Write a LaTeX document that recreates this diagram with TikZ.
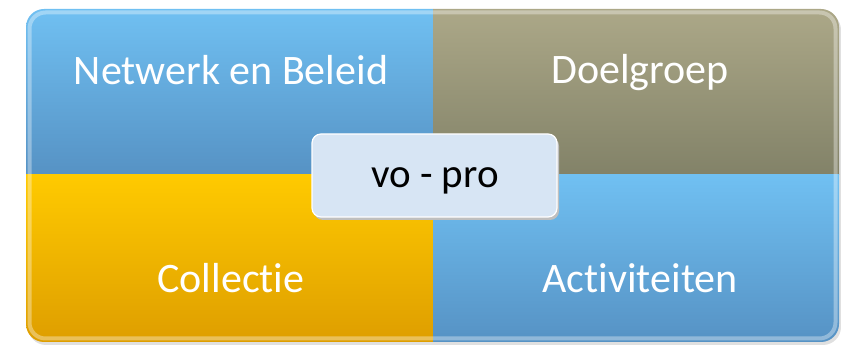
\documentclass[tikz,border=0pt]{standalone}
\usepackage{fontspec}
\setmainfont{Carlito}[Ligatures={NoCommon}]
\definecolor{blueTop}{RGB}{112,192,242}
\definecolor{blueBot}{RGB}{86,146,196}
\definecolor{oliveTop}{RGB}{172,168,136}
\definecolor{oliveBot}{RGB}{130,130,104}
\definecolor{goldTop}{RGB}{255,202,0}
\definecolor{goldBot}{RGB}{222,158,0}
\definecolor{centerFill}{RGB}{215,229,244}
\tikzset{
  lbl/.style={text=white, font=\fontsize{42}{48}\selectfont, anchor=base, inner sep=0pt},
  centerlbl/.style={text=black, font=\fontsize{41}{48}\selectfont, anchor=base, inner sep=0pt},
}
\begin{document}
\begin{tikzpicture}[x=1pt,y=-1pt]
\useasboundingbox (0,0) rectangle (841,347);
% soft shadow
\fill[black!12, rounded corners=18] (28,12) rectangle (841,345);
\begin{scope}
\clip[rounded corners=18] (26,9) rectangle (839,342);
\shade[top color=blueTop, bottom color=blueBot] (26,9) rectangle (433,175);
\shade[top color=oliveTop, bottom color=oliveBot] (433,9) rectangle (839,175);
\shade[top color=goldTop, bottom color=goldBot] (26,175) rectangle (433,342);
\shade[top color=blueTop, bottom color=blueBot] (433,175) rectangle (839,342);
% bevel highlight
\draw[white, opacity=0.35, line width=4pt, rounded corners=16] (29.5,12.5) rectangle (835.5,338.5);
\end{scope}
% center box
\fill[black!25, rounded corners=9] (314,137) rectangle (559,220);
\node[draw=white, line width=1.2pt, fill=centerFill, rounded corners=9,
      minimum width=245pt, minimum height=83pt, inner sep=0pt] (center) at (434.5,175.5) {};
\node[centerlbl] (vopro) at (435,188) {vo - pro};
\node[lbl] (nb) at (231,85) {Netwerk en Beleid};
\node[lbl] (dg) at (640,84) {Doelgroep};
\node[lbl] (col) at (231,293) {Collectie};
\node[lbl] (act) at (640,293) {Activiteiten};
\end{tikzpicture}
\end{document}
